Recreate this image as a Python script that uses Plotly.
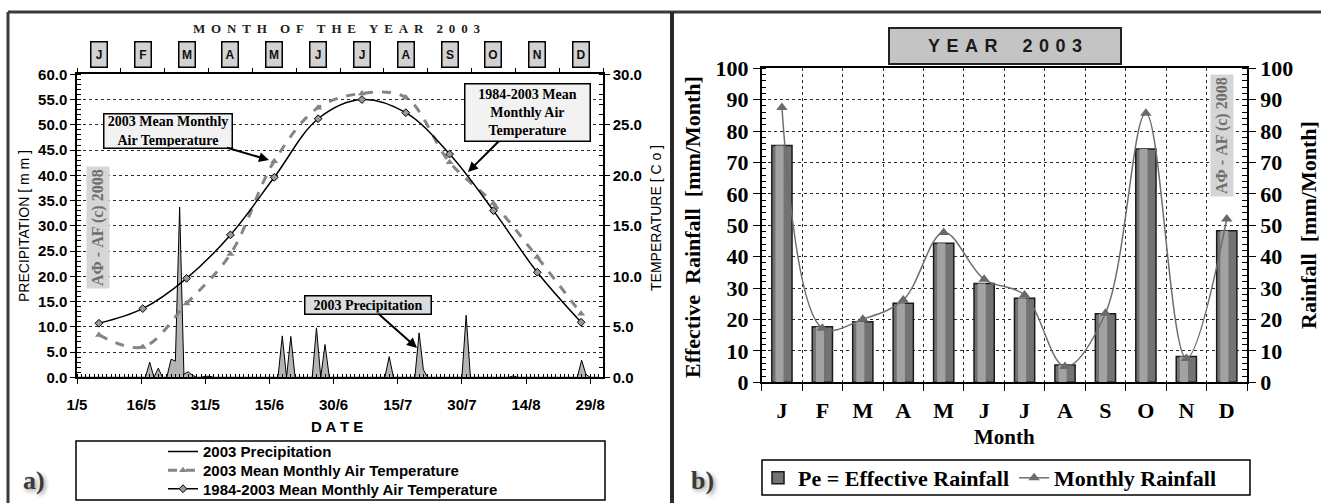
import pandas as pd
import plotly.graph_objects as go

# ---------------- data ----------------
# panel a) daily precipitation 2003 (mm), dry days are 0
wet_days = ['2003-05-18', '2003-05-20', '2003-05-23', '2003-05-24', '2003-05-25',
            '2003-05-26', '2003-05-27', '2003-05-28', '2003-05-31', '2003-06-01',
            '2003-06-18', '2003-06-20', '2003-06-26', '2003-06-28', '2003-07-13',
            '2003-07-20', '2003-07-21', '2003-07-31', '2003-08-11', '2003-08-27',
            '2003-08-28']
wet_mm = [3.0, 1.8, 3.6, 3.2, 33.7, 0.6, 1.1, 0.4, 0.2, 0.2,
          8.2, 8.1, 9.8, 6.5, 4.1, 8.8, 1.5, 12.3, 0.3, 3.4, 0.6]
period_start, period_end = '2003-05-01', '2003-08-31'

date_ticks = ['2003-05-01', '2003-05-16', '2003-05-31', '2003-06-15', '2003-06-30',
              '2003-07-15', '2003-07-30', '2003-08-14', '2003-08-29']
date_ticktext = ['1/5', '16/5', '31/5', '15/6', '30/6', '15/7', '30/7', '14/8', '29/8']

months = ['J', 'F', 'M', 'A', 'M', 'J', 'J', 'A', 'S', 'O', 'N', 'D']
temp_2003 = [4.2, 3.0, 7.3, 12.2, 21.4, 26.7, 28.1, 27.7, 21.3, 17.2, 11.9, 6.3]
temp_1984_2003 = [5.35, 6.8, 9.8, 14.1, 19.8, 25.6, 27.5, 26.2, 22.1, 16.5, 10.4, 5.45]

# panel b) monthly rainfall 2003
effective_rain = [75.4, 17.7, 19.3, 25.2, 44.3, 31.5, 26.8, 5.5, 21.8, 74.3, 8.2, 48.3]
monthly_rain = [87.5, 17.2, 20.1, 26.2, 47.7, 32.8, 27.8, 5.0, 22.0, 85.7, 7.6, 52.0]

# ---------------- helpers ----------------
W, H = 1321, 503
SANS = 'Liberation Sans, Arial, sans-serif'
SERIF = 'Liberation Serif, Times New Roman, serif'


def px(x):
    return x / W


def py(y):
    return 1 - y / H


daily = pd.Series(0.0, index=pd.date_range(period_start, period_end))
daily.loc[pd.to_datetime(wet_days)] = wet_mm
month_idx = list(range(len(months)))

fig = go.Figure()

# ---- panel a traces ----
fig.add_trace(go.Scatter(x=daily.index, y=daily.values, mode='lines', xaxis='x', yaxis='y',
                         line=dict(color='black', width=1), fill='tozeroy',
                         fillcolor='#b4b4b4', showlegend=False))
fig.add_trace(go.Scatter(x=[None], y=[None], mode='lines', name='2003 Precipitation',
                         xaxis='x', yaxis='y', line=dict(color='black', width=1.5),
                         legend='legend'))
fig.add_trace(go.Scatter(x=month_idx, y=temp_2003, mode='lines+markers', xaxis='x2', yaxis='y2',
                         name='2003 Mean Monthly Air Temperature', line_shape='spline',
                         line=dict(color='#858585', width=3, dash='dash'),
                         marker=dict(symbol='triangle-up', size=7, color='#858585'),
                         legend='legend3'))
fig.add_trace(go.Scatter(x=month_idx, y=temp_1984_2003, mode='lines+markers', xaxis='x2', yaxis='y2',
                         name='1984-2003 Mean Monthly Air Temperature', line_shape='spline',
                         line=dict(color='black', width=1.5),
                         marker=dict(symbol='diamond', size=6, color='#9a9a9a',
                                     line=dict(color='black', width=1)),
                         legend='legend4'))

# ---- panel b traces ----
fig.add_trace(go.Bar(x=month_idx, y=effective_rain, xaxis='x3', yaxis='y3', width=0.5,
                     name='Pe = Effective Rainfall',
                     marker=dict(color='#737373', line=dict(color='#1a1a1a', width=1.5)),
                     legend='legend2'))
# lighter centre strip to imitate the shaded column look
fig.add_trace(go.Bar(x=month_idx, y=effective_rain, xaxis='x3', yaxis='y3', width=0.2,
                     offset=-0.16, marker=dict(color='#a2a2a2', line=dict(width=0)),
                     showlegend=False, hoverinfo='skip'))
fig.add_trace(go.Scatter(x=month_idx, y=monthly_rain, xaxis='x3', yaxis='y4', mode='lines+markers',
                         name='Monthly Rainfall', line_shape='spline',
                         line=dict(color='#6e6e6e', width=1.5),
                         marker=dict(symbol='triangle-up', size=10, color='#6a6a6a'),
                         legend='legend2'))

grid = dict(showgrid=True, gridcolor='#2a2a2a', griddash='dot', gridwidth=1.2)
sans_tick = dict(family=SANS, size=15, color='black', weight='bold')
serif_tick = dict(family=SERIF, size=22, color='black', weight='bold')

A_DOM = [px(77), px(603)]
A_YDOM = [py(377.3), py(74.3)]
B_DOM = [px(761.7), px(1247)]
B_YDOM = [py(382.3), py(68.3)]

leg_a_font = dict(family=SANS, size=15, color='black', weight='bold')


def leg_a(yc):
    return dict(x=px(163), y=py(yc), xanchor='left', yanchor='middle',
                bgcolor='rgba(0,0,0,0)', font=leg_a_font, itemwidth=30)


fig.update_layout(
    width=W, height=H, margin=dict(l=0, r=0, t=0, b=0, pad=0, autoexpand=False),
    paper_bgcolor='white', plot_bgcolor='white', barmode='overlay',
    xaxis=dict(domain=A_DOM, anchor='y', type='date', automargin=False,
               range=['2003-05-01', '2003-09-01'],
               tickmode='array', tickvals=date_ticks, ticktext=date_ticktext,
               ticks='outside', ticklen=5, tickcolor='black', tickwidth=1.2,
               showline=True, linecolor='black', linewidth=1.5, showgrid=False,
               zeroline=False, tickfont=sans_tick, ticklabelstandoff=8,
               minor=dict(tickmode='linear', tick0='2003-05-01', dtick=86400000,
                          ticks='inside', ticklen=4, tickcolor='black', showgrid=False)),
    xaxis2=dict(overlaying='x', anchor='y', side='top', range=[-0.5, 11.5], automargin=False,
                tickmode='array', tickvals=[k - 0.5 for k in range(13)],
                showticklabels=False, ticks='outside', ticklen=5, tickcolor='black',
                showline=True, linecolor='black', linewidth=1.5, showgrid=False,
                zeroline=False),
    yaxis=dict(domain=A_YDOM, anchor='x', range=[0, 60], dtick=5, tickformat='.1f',
               automargin=False,
               ticks='outside', ticklen=5, tickcolor='black', showline=True,
               linecolor='black', linewidth=1.5, zeroline=False, tickfont=sans_tick,
               minor=dict(dtick=1, ticks='inside', ticklen=4, tickcolor='black', showgrid=False),
               **grid),
    yaxis2=dict(overlaying='y', anchor='x', side='right', range=[0, 30], dtick=5,
                automargin=False,
                tickformat='.1f', ticks='outside', ticklen=5, tickcolor='black',
                showline=True, linecolor='black', linewidth=1.5, zeroline=False,
                showgrid=False, tickfont=sans_tick,
                minor=dict(dtick=1, ticks='inside', ticklen=4, tickcolor='black')),
    xaxis3=dict(domain=B_DOM, anchor='y3', range=[-0.5, 11.5], tickmode='array',
                automargin=False,
                tickvals=month_idx, ticktext=months, ticks='', showgrid=False,
                showline=True, linecolor='black', linewidth=1.5, mirror=True,
                zeroline=False, tickfont=serif_tick, ticklabelstandoff=8,
                minor=dict(tickmode='linear', tick0=-0.5, dtick=1, ticks='outside', ticklen=7,
                           tickcolor='black', showgrid=True, gridcolor='#2a2a2a',
                           griddash='dot', gridwidth=1.2)),
    yaxis3=dict(domain=B_YDOM, anchor='x3', range=[0, 100], dtick=10, ticks='outside',
                automargin=False,
                ticklen=7, tickcolor='black', showline=True, linecolor='black',
                linewidth=1.5, zeroline=False, tickfont=serif_tick,
                minor=dict(dtick=2, ticks='inside', ticklen=5, tickcolor='black', showgrid=False),
                **grid),
    yaxis4=dict(overlaying='y3', anchor='x3', side='right', range=[0, 100], dtick=10,
                automargin=False,
                ticks='outside', ticklen=7, tickcolor='black', showline=True,
                linecolor='black', linewidth=1.5, zeroline=False, showgrid=False,
                tickfont=serif_tick,
                minor=dict(dtick=2, ticks='inside', ticklen=5, tickcolor='black')),
    legend=leg_a(451.7),
    legend3=leg_a(470.5),
    legend4=leg_a(489),
    legend2=dict(orientation='h', x=px(758), y=py(478), xanchor='left', yanchor='middle',
                 bgcolor='rgba(0,0,0,0)', font=dict(family=SERIF, size=22, color='black',
                                                    weight='bold'),
                 itemwidth=30),
)

shapes = [
    # frame
    dict(type='line', xref='paper', yref='paper', x0=px(8), x1=1, y0=py(12), y1=py(12),
         line=dict(color='#3a3a3a', width=3)),
    dict(type='line', xref='paper', yref='paper', x0=px(8), x1=px(8), y0=py(12), y1=0,
         line=dict(color='#3a3a3a', width=3)),
    dict(type='line', xref='paper', yref='paper', x0=px(672), x1=px(672), y0=py(12), y1=0,
         line=dict(color='#2a2a2a', width=4)),
    # legend frames
    dict(type='rect', xref='paper', yref='paper', x0=px(76), x1=px(605), y0=py(500), y1=py(441),
         line=dict(color='black', width=1.5)),
    dict(type='rect', xref='paper', yref='paper', x0=px(762), x1=px(1250), y0=py(495), y1=py(460),
         line=dict(color='black', width=1.5)),
]
fig.update_layout(shapes=shapes)

ann = []
nb = '\u00a0'


def spaced(words, gap_letter, gap_word):
    return gap_word.join(gap_letter.join(w) for w in words)


def note(x, y, text, **kw):
    d = dict(xref='paper', yref='paper', x=px(x), y=py(y), text=text, showarrow=False,
             xanchor='center', yanchor='middle')
    d.update(kw)
    ann.append(d)


note(336, 29, spaced(['MONTH', 'OF', 'THE', 'YEAR', '2003'], nb + '\u2009', nb * 4),
     font=dict(family=SERIF, size=13, color='#222', weight='bold'))
for i, m in enumerate(months):
    ann.append(dict(xref='x2', yref='paper', x=i, y=py(55), showarrow=False, text=m,
                    xanchor='center', yanchor='middle',
                    font=dict(family=SANS, size=12, color='#111', weight='bold'),
                    bgcolor='#d2d2d2', bordercolor='black', borderwidth=1.5,
                    borderpad=2, width=11, height=20))

box_font = dict(family=SERIF, size=14, color='black', weight='bold')
arrow = dict(showarrow=True, arrowhead=2, arrowsize=1, arrowwidth=2, arrowcolor='black',
             standoff=0, bordercolor='black', borderwidth=1.5, borderpad=1)
note(269, 160, '2003 Mean Monthly<br>Air Temperature', ax=168 - 269, ay=130.5 - 160,
     font=box_font, bgcolor='#f2f2f2', width=125, height=31, **arrow)
note(468, 172, '1984-2003 Mean<br>Monthly Air<br>Temperature', ax=527.5 - 468, ay=112.5 - 172,
     font=box_font, bgcolor='#f2f2f2', width=122, height=54, **arrow)
note(417, 348, '2003 Precipitation', ax=368 - 417, ay=304.5 - 348,
     font=box_font, bgcolor='#dcdcdc', width=123, height=15, **arrow)

wm_font = dict(family=SERIF, size=16, color='#6e6e6e', weight='bold')
note(98, 228, 'AΦ - AF (c) 2008', textangle=-90, font=wm_font, bgcolor='#d6d6d6', borderpad=2)
note(1222, 136, 'AΦ - AF (c) 2008', textangle=-90, font=wm_font, bgcolor='#d6d6d6', borderpad=2)

# axis titles
note(24, 226, 'PRECIPITATION [ m m ]', textangle=-90,
     font=dict(family=SANS, size=14, color='black'))
note(656, 218, 'TEMPERATURE [ C o ]', textangle=-90,
     font=dict(family=SANS, size=14, color='black'))
note(337, 426, 'D A T E', font=dict(family=SANS, size=15, color='black', weight='bold'))
note(692, 227, 'Effective' + nb * 2 + 'Rainfall' + nb * 2 + '[mm/Month]', textangle=-90,
     font=dict(family=SERIF, size=22, color='black', weight='bold'))
note(1308, 225, 'Rainfall' + nb * 2 + '[mm/Month]', textangle=-90,
     font=dict(family=SERIF, size=22, color='black', weight='bold'))
note(1004, 437, 'Month', font=dict(family=SERIF, size=21, color='black', weight='bold'))

# panel header box
note(1004.6, 45.8, spaced(['YEAR', '2003'], nb + '\u200a', nb * 5),
     font=dict(family=SANS, size=18, color='#1a1a1a', weight='bold'),
     bgcolor='#c4c4c4', bordercolor='#222', borderwidth=2, borderpad=2, width=226, height=30)

# panel letters
for lbl, xx in (('a)', 34), ('b)', 702)):
    note(xx, 480, lbl, font=dict(family=SERIF, size=26, color='#3a3a3a', weight='bold',
                                 shadow='2px 2px 4px #9a9a9a'))

fig.update_layout(annotations=ann)
fig.write_html('out.html',
               config={'displayModeBar': False},
               post_script="document.body.style.margin='0px';"
                           "document.body.style.overflow='hidden';")
